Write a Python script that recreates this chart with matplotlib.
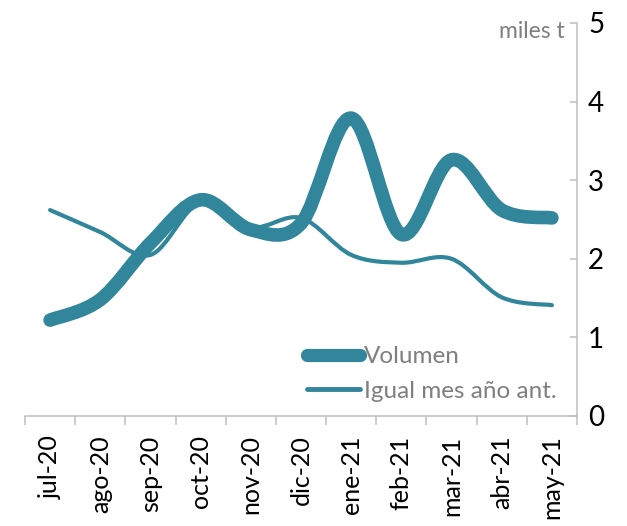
import matplotlib
matplotlib.use('Agg')
import matplotlib.pyplot as plt
from matplotlib.path import Path
from matplotlib.patches import PathPatch
from matplotlib.lines import Line2D

months = ['jul-20', 'ago-20', 'sep-20', 'oct-20', 'nov-20', 'dic-20',
          'ene-21', 'feb-21', 'mar-21', 'abr-21', 'may-21']
volumen = [1.22, 1.48, 2.2, 2.75, 2.37, 2.45, 3.79, 2.31, 3.26, 2.62, 2.52]
anterior = [2.62, 2.34, 2.05, 2.72, 2.4, 2.52, 2.05, 1.95, 2.0, 1.51, 1.41]

teal = '#31869b'
grey_txt = '#7f7f7f'
grey_ax = '#bfbfbf'

plt.rcParams['font.family'] = ['Lato', 'DejaVu Sans']


def smooth_path(xs, ys):
    # bezier segments like a spreadsheet "smoothed line"
    pts = list(zip(xs, ys))
    verts = [pts[0]]
    codes = [Path.MOVETO]
    n = len(pts)
    for i in range(n - 1):
        p0 = pts[i - 1] if i > 0 else pts[i]
        p1 = pts[i]
        p2 = pts[i + 1]
        p3 = pts[i + 2] if i + 2 < n else pts[i + 1]
        c1 = (p1[0] + (p2[0] - p0[0]) / 6, p1[1] + (p2[1] - p0[1]) / 6)
        c2 = (p2[0] - (p3[0] - p1[0]) / 6, p2[1] - (p3[1] - p1[1]) / 6)
        verts += [c1, c2, p2]
        codes += [Path.CURVE4] * 3
    return Path(verts, codes)


fig = plt.figure(figsize=(6.27, 5.26), dpi=100)
ax = fig.add_axes([25 / 627, 110 / 526, 552 / 627, 393 / 526])

x = list(range(len(months)))
for ys, lw in [(anterior, 3.0), (volumen, 9.8)]:
    patch = PathPatch(smooth_path(x, ys), facecolor='none', edgecolor=teal,
                      lw=lw, capstyle='round', joinstyle='round', clip_on=False)
    ax.add_patch(patch)

ax.set_xlim(-0.5, len(months) - 0.5)
ax.set_ylim(0, 5)

for s in ['top', 'left']:
    ax.spines[s].set_visible(False)
for s in ['bottom', 'right']:
    ax.spines[s].set_color(grey_ax)
    ax.spines[s].set_linewidth(1.1)

ax.yaxis.tick_right()
ax.set_yticks(range(6))
ax.tick_params(axis='y', direction='in', length=5, color=grey_ax, width=1.1,
               labelsize=20, pad=8, labelcolor='black')

ax.set_xticks(x)
ax.set_xticklabels(months, rotation=90)
ax.set_xticks([i - 0.5 for i in range(len(months) + 1)], minor=True)
ax.tick_params(axis='x', which='major', length=0, pad=14, labelsize=18)
ax.tick_params(axis='x', which='minor', length=6.5, color=grey_ax, width=1.1,
               direction='out')

fig.text(565 / 627, 1 - 32 / 526, 'miles t', ha='right', va='center',
         fontsize=16.5, color=grey_txt)

handles = [Line2D([], [], color=teal, lw=9.5, solid_capstyle='round'),
           Line2D([], [], color=teal, lw=3.5, solid_capstyle='round')]
leg = ax.legend(handles, ['Volumen', 'Igual mes año ant.'],
                loc='center left', bbox_to_anchor=(307 / 627, 1 - 374 / 526),
                bbox_transform=fig.transFigure, frameon=False, fontsize=17.5,
                handlelength=2.2, handletextpad=0.15, labelspacing=0.55,
                borderpad=0, borderaxespad=0)
for t in leg.get_texts():
    t.set_color(grey_txt)

fig.savefig('out.png', dpi=100)
